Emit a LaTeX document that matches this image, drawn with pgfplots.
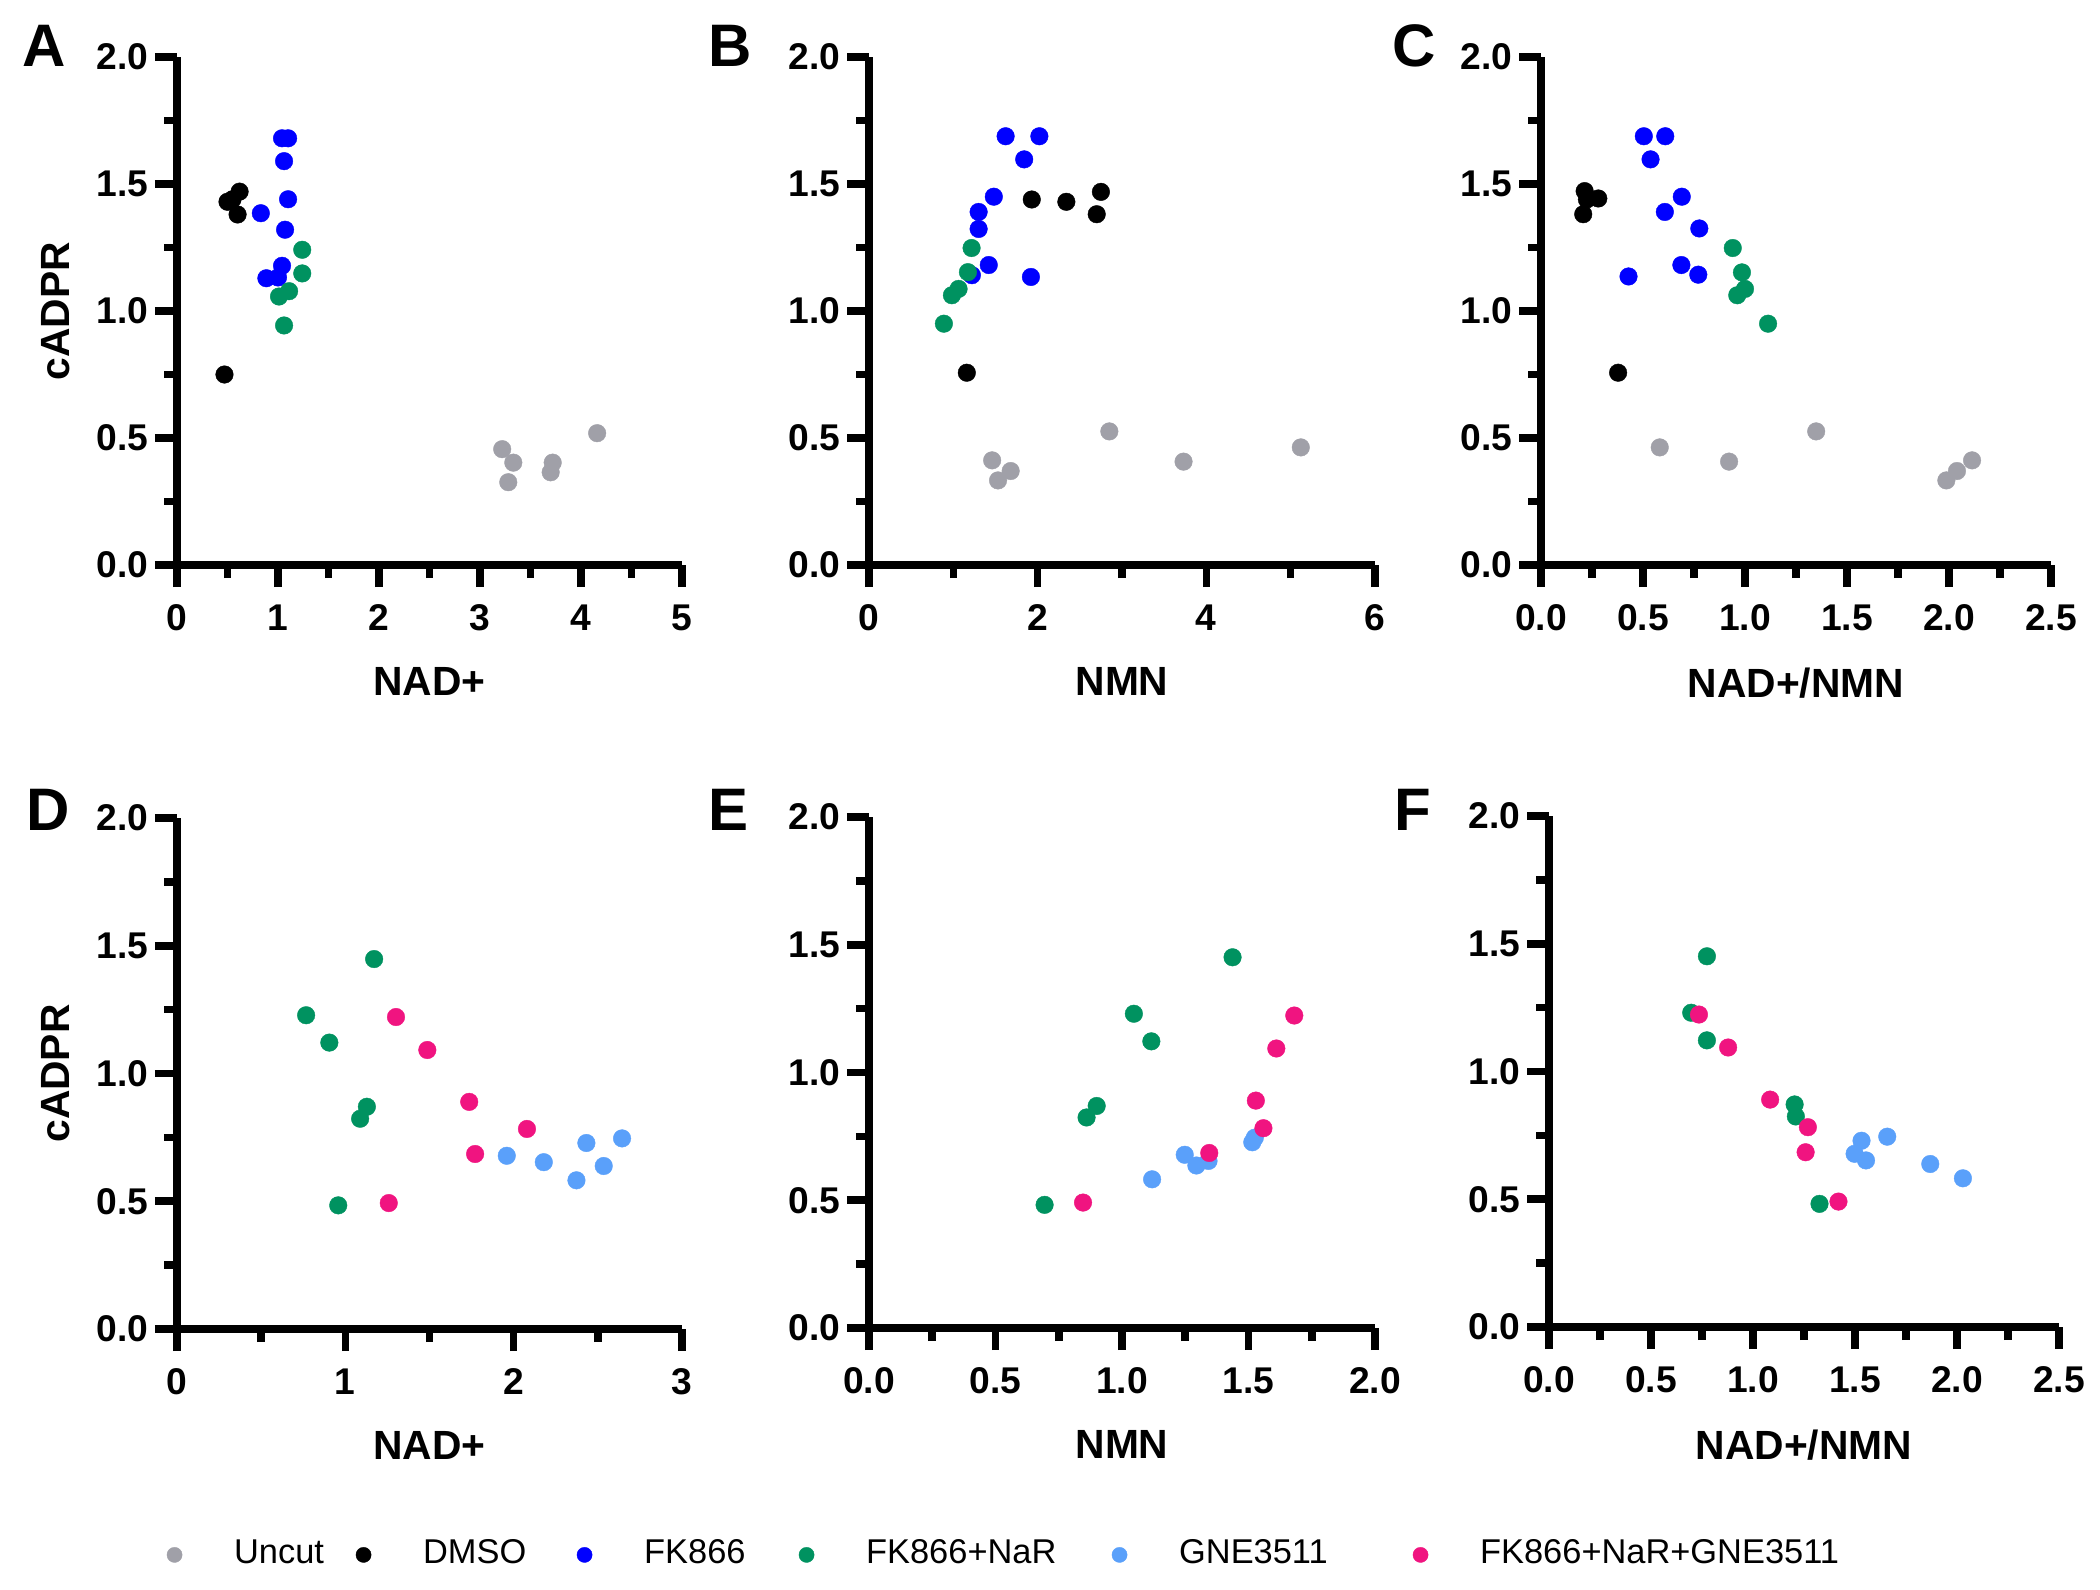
\documentclass[border=0pt]{standalone}
\usepackage{fontspec}
\setmainfont{Liberation Sans}
\usepackage{pgfplots}
\pgfplotsset{compat=1.18}

\definecolor{cUncut}{RGB}{160,160,168}
\definecolor{cDMSO}{RGB}{0,0,0}
\definecolor{cFK}{RGB}{0,0,255}
\definecolor{cNaR}{RGB}{0,146,96}
\definecolor{cGNE}{RGB}{90,160,250}
\definecolor{cAll}{RGB}{240,20,128}

\pgfplotsset{
  panel/.style={
    scale only axis,
    axis lines=left,
    axis line style={-, line width=1.9pt},
    tick align=outside,
    major tick length=5.5pt,
    minor tick length=3.25pt,
    tick style={black, line width=1.9pt},
    ymin=0, ymax=2,
    ytick={0,0.5,1,1.5,2},
    yticklabels={0.0,0.5,1.0,1.5,2.0},
    minor ytick={0.25,0.75,1.25,1.75},
    tick label style={font=\bfseries\fontsize{9.3}{10}\selectfont},
    yticklabel style={inner xsep=1.5pt},
    xticklabel style={inner ysep=4.3pt},
    xlabel style={font=\bfseries\fontsize{10.2}{12}\selectfont, at={(axis description cs:0.5,0)}, anchor=north, yshift=-25.5pt, inner sep=0pt},
    ylabel style={font=\bfseries\fontsize{10.2}{12}\selectfont, at={(axis description cs:-0.21,0.5)}, anchor=south, inner sep=0pt},
    clip=false,
    every axis plot/.append style={only marks, mark=*, mark size=2.2pt, mark options={line width=0.1pt}},
  },
}

\begin{document}
\begin{tikzpicture}
\path[use as bounding box] (0,0) rectangle (525pt,397.25pt);

% ---------------- A ----------------
\begin{axis}[panel, at={(44.25pt,256pt)}, anchor=origin, width=126.25pt, height=127pt,
  xmin=0, xmax=5, xtick={0,1,2,3,4,5}, xticklabels={0,1,2,3,4,5},
  minor xtick={0.5,1.5,2.5,3.5,4.5}, xlabel={NAD+}, ylabel={cADPR}]
\addplot[cUncut] coordinates {(3.22,0.456) (3.33,0.403) (3.28,0.326) (3.72,0.403) (3.70,0.365) (4.16,0.519)};
\addplot[cDMSO] coordinates {(0.50,1.43) (0.55,1.44) (0.62,1.47) (0.60,1.38) (0.47,0.75)};
\addplot[cFK] coordinates {(1.04,1.68) (1.10,1.68) (1.06,1.59) (1.10,1.44) (1.07,1.32) (0.83,1.385) (1.04,1.178) (0.885,1.129) (1.00,1.132)};
\addplot[cNaR] coordinates {(1.24,1.241) (1.24,1.148) (1.11,1.078) (1.01,1.057) (1.06,0.943)};
\end{axis}

% ---------------- B ----------------
\begin{axis}[panel, at={(217.25pt,256pt)}, anchor=origin, width=126.5pt, height=127pt,
  xmin=0, xmax=6, xtick={0,2,4,6}, xticklabels={0,2,4,6},
  minor xtick={1,3,5}, xlabel={NMN}]
\addplot[cUncut] coordinates {(1.46,0.412) (1.53,0.333) (1.68,0.37) (2.85,0.526) (3.73,0.407) (5.12,0.463)};
\addplot[cDMSO] coordinates {(1.93,1.439) (2.34,1.430) (2.75,1.469) (2.70,1.381) (1.16,0.757)};
\addplot[cFK] coordinates {(1.62,1.688) (2.02,1.688) (1.84,1.597) (1.48,1.45) (1.30,1.39) (1.30,1.323) (1.42,1.181) (1.22,1.141) (1.92,1.134)};
\addplot[cNaR] coordinates {(1.216,1.248) (1.173,1.153) (1.062,1.087) (0.983,1.062) (0.888,0.950)};
\end{axis}

% ---------------- C ----------------
\begin{axis}[panel, at={(385.25pt,256pt)}, anchor=origin, width=127.5pt, height=127pt,
  xmin=0, xmax=2.5, xtick={0,0.5,1,1.5,2,2.5}, xticklabels={0.0,0.5,1.0,1.5,2.0,2.5},
  minor xtick={0.25,0.75,1.25,1.75,2.25}, xlabel={NAD+/NMN}]
\addplot[cUncut] coordinates {(0.582,0.463) (0.922,0.407) (1.349,0.526) (1.987,0.333) (2.039,0.37) (2.113,0.412)};
\addplot[cDMSO] coordinates {(0.214,1.472) (0.225,1.439) (0.281,1.443) (0.207,1.381) (0.378,0.757)};
\addplot[cFK] coordinates {(0.504,1.688) (0.609,1.688) (0.537,1.597) (0.69,1.45) (0.607,1.39) (0.776,1.325) (0.688,1.181) (0.771,1.143) (0.429,1.136)};
\addplot[cNaR] coordinates {(0.940,1.248) (0.985,1.152) (1.000,1.087) (0.962,1.062) (1.113,0.950)};
\end{axis}

% ---------------- D ----------------
\begin{axis}[panel, at={(44.25pt,65pt)}, anchor=origin, width=126.25pt, height=127.75pt,
  xmin=0, xmax=3, xtick={0,1,2,3}, xticklabels={0,1,2,3},
  minor xtick={0.5,1.5,2.5}, xlabel={NAD+}, ylabel={cADPR}]
\addplot[cNaR] coordinates {(0.767,1.228) (0.905,1.121) (1.171,1.448) (1.128,0.870) (1.088,0.823) (0.958,0.484)};
\addplot[cGNE] coordinates {(1.959,0.678) (2.179,0.653) (2.373,0.582) (2.432,0.728) (2.535,0.638) (2.644,0.746)};
\addplot[cAll] coordinates {(1.301,1.221) (1.487,1.092) (1.736,0.889) (1.771,0.685) (2.079,0.783) (1.258,0.493)};
\end{axis}

% ---------------- E ----------------
\begin{axis}[panel, at={(217.25pt,65.25pt)}, anchor=origin, width=126.5pt, height=127.75pt,
  xmin=0, xmax=2, xtick={0,0.5,1,1.5,2}, xticklabels={0.0,0.5,1.0,1.5,2.0},
  minor xtick={0.25,0.75,1.25,1.75}, xlabel={NMN},
  legend columns=6,
  legend cell align=left,
  legend image code/.code={\draw[#1] plot coordinates {(0pt,0pt)};},
  legend style={at={(axis description cs:-1.389,-0.444)}, anchor=west, draw=none, fill=none, inner sep=0pt,
    font=\fontsize{8.6}{10}\selectfont,
    nodes={inner xsep=0pt, inner ysep=1pt},
    /tikz/every odd column/.append style={column sep=13pt},
    /tikz/every even column/.append style={column sep=0pt}},
]
\addlegendimage{only marks, mark=*, mark size=1.9pt, color=cUncut}
\addlegendentry{\makebox[30.45pt][l]{Uncut}}
\addlegendimage{only marks, mark=*, mark size=1.9pt, color=cDMSO}
\addlegendentry{\makebox[38.45pt][l]{DMSO}}
\addlegendimage{only marks, mark=*, mark size=1.9pt, color=cFK}
\addlegendentry{\makebox[38.7pt][l]{FK866}}
\addlegendimage{only marks, mark=*, mark size=1.9pt, color=cNaR}
\addlegendentry{\makebox[61.45pt][l]{FK866+NaR}}
\addlegendimage{only marks, mark=*, mark size=1.9pt, color=cGNE}
\addlegendentry{\makebox[58.45pt][l]{GNE3511}}
\addlegendimage{only marks, mark=*, mark size=1.9pt, color=cAll}
\addlegendentry{FK866+NaR+GNE3511}
\addplot[cNaR, forget plot] coordinates {(0.694,0.482) (0.860,0.824) (0.900,0.869) (1.047,1.230) (1.116,1.122) (1.437,1.451)};
\addplot[cGNE, forget plot] coordinates {(1.119,0.582) (1.248,0.678) (1.294,0.636) (1.342,0.654) (1.515,0.727) (1.525,0.745)};
\addplot[cAll, forget plot] coordinates {(0.846,0.491) (1.345,0.685) (1.529,0.890) (1.559,0.782) (1.610,1.094) (1.681,1.223)};
\end{axis}

% ---------------- F ----------------
\begin{axis}[panel, at={(387.25pt,65.5pt)}, anchor=origin, width=127.5pt, height=127.75pt,
  xmin=0, xmax=2.5, xtick={0,0.5,1,1.5,2,2.5}, xticklabels={0.0,0.5,1.0,1.5,2.0,2.5},
  minor xtick={0.25,0.75,1.25,1.75,2.25}, xlabel={NAD+/NMN}]
\addplot[cNaR] coordinates {(0.697,1.230) (0.774,1.451) (0.774,1.122) (1.204,0.871) (1.210,0.824) (1.326,0.482)};
\addplot[cGNE] coordinates {(1.498,0.678) (1.532,0.729) (1.554,0.652) (1.658,0.745) (1.869,0.638) (2.029,0.582)};
\addplot[cAll] coordinates {(0.735,1.223) (0.878,1.094) (1.084,0.890) (1.269,0.782) (1.258,0.684) (1.419,0.491)};
\end{axis}

% panel letters
\begin{scope}[every node/.style={anchor=base west, inner sep=0pt, font=\bfseries\fontsize{15}{17}\selectfont}]
\node at (5.5pt,380.5pt) {A};
\node at (177pt,380.5pt) {B};
\node at (348pt,380.5pt) {C};
\node at (6.5pt,189.75pt) {D};
\node at (177pt,189.75pt) {E};
\node at (348.5pt,189.75pt) {F};
\end{scope}
\end{tikzpicture}
\end{document}
